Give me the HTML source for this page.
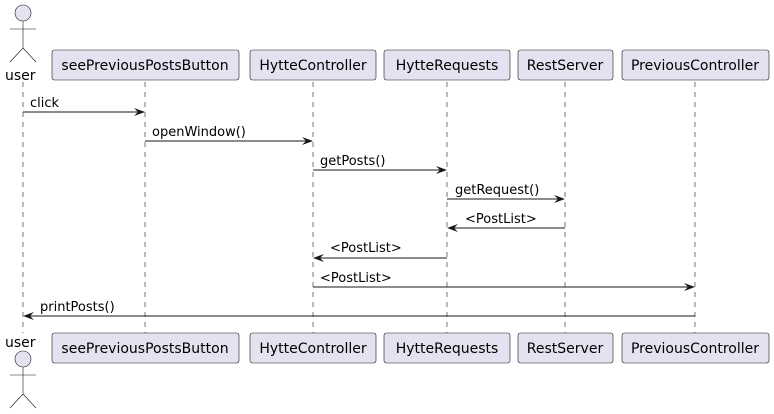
<!DOCTYPE html>
<html><head><style>body{margin:0;background:#fff}svg{display:block}text{font-family:"DejaVu Sans",sans-serif;font-size:13px;fill:#000}</style></head><body>
<svg width="774" height="414" viewBox="0 0 774 414" xmlns="http://www.w3.org/2000/svg">
<g stroke="#181818" stroke-width="0.6" stroke-dasharray="5,5">
<line x1="23" y1="82" x2="23" y2="333"/><line x1="145" y1="82" x2="145" y2="333"/><line x1="313" y1="82" x2="313" y2="333"/><line x1="447" y1="82" x2="447" y2="333"/><line x1="565" y1="82" x2="565" y2="333"/><line x1="695" y1="82" x2="695" y2="333"/>
</g>
<g fill="#E2E2F0" stroke="#181818" stroke-width="0.6">
<rect x="52" y="50" width="187" height="30" rx="2.5"/><rect x="250" y="50" width="126" height="30" rx="2.5"/><rect x="384" y="50" width="126" height="30" rx="2.5"/><rect x="518" y="50" width="95" height="30" rx="2.5"/><rect x="622" y="50" width="147" height="30" rx="2.5"/>
<rect x="52" y="333" width="187" height="30" rx="2.5"/><rect x="250" y="333" width="126" height="30" rx="2.5"/><rect x="384" y="333" width="126" height="30" rx="2.5"/><rect x="518" y="333" width="95" height="30" rx="2.5"/><rect x="622" y="333" width="147" height="30" rx="2.5"/>
<circle cx="23" cy="13" r="8"/><circle cx="23" cy="359" r="8"/>
</g>
<g stroke="#181818" stroke-width="0.6" fill="none">
<path d="M23 21V48M10 29H36M10 62L23 48L36 62"/>
<path d="M23 367V394M10 375H36M10 408L23 394L36 408"/>
</g>
<text x="5" y="80" style="font-size:14px">user</text><text x="5" y="347" style="font-size:14px">user</text>
<g>
<text x="145" y="70" text-anchor="middle" style="font-size:14px">seePreviousPostsButton</text><text x="313" y="70" text-anchor="middle" style="font-size:14px">HytteController</text><text x="447" y="70" text-anchor="middle" style="font-size:14px">HytteRequests</text><text x="565" y="70" text-anchor="middle" style="font-size:14px">RestServer</text><text x="695" y="70" text-anchor="middle" style="font-size:14px">PreviousController</text>
<text x="145" y="353" text-anchor="middle" style="font-size:14px">seePreviousPostsButton</text><text x="313" y="353" text-anchor="middle" style="font-size:14px">HytteController</text><text x="447" y="353" text-anchor="middle" style="font-size:14px">HytteRequests</text><text x="565" y="353" text-anchor="middle" style="font-size:14px">RestServer</text><text x="695" y="353" text-anchor="middle" style="font-size:14px">PreviousController</text>
</g>
<g stroke="#181818" stroke-width="1">
<line x1="23" y1="112" x2="143" y2="112"/><line x1="145" y1="141" x2="311" y2="141"/><line x1="313" y1="170" x2="445" y2="170"/><line x1="447" y1="199" x2="563" y2="199"/><line x1="565" y1="228" x2="449" y2="228"/><line x1="447" y1="258" x2="315" y2="258"/><line x1="313" y1="287" x2="693" y2="287"/><line x1="695" y1="316" x2="25" y2="316"/>
</g>
<g fill="#181818">
<path d="M145 112l-11-4 4 4-4 4z"/><path d="M313 141l-11-4 4 4-4 4z"/><path d="M447 170l-11-4 4 4-4 4z"/><path d="M565 199l-11-4 4 4-4 4z"/>
<path d="M447 228l11-4-4 4 4 4z"/><path d="M313 258l11-4-4 4 4 4z"/><path d="M695 287l-11-4 4 4-4 4z"/><path d="M23 316l11-4-4 4 4 4z"/>
</g>
<text x="30" y="107">click</text><text x="152" y="136">openWindow()</text><text x="320" y="165">getPosts()</text><text x="455" y="194">getRequest()</text><text x="465" y="223">&lt;PostList&gt;</text><text x="330" y="252">&lt;PostList&gt;</text><text x="320" y="282">&lt;PostList&gt;</text><text x="40" y="311">printPosts()</text>
</svg>
</body></html>
